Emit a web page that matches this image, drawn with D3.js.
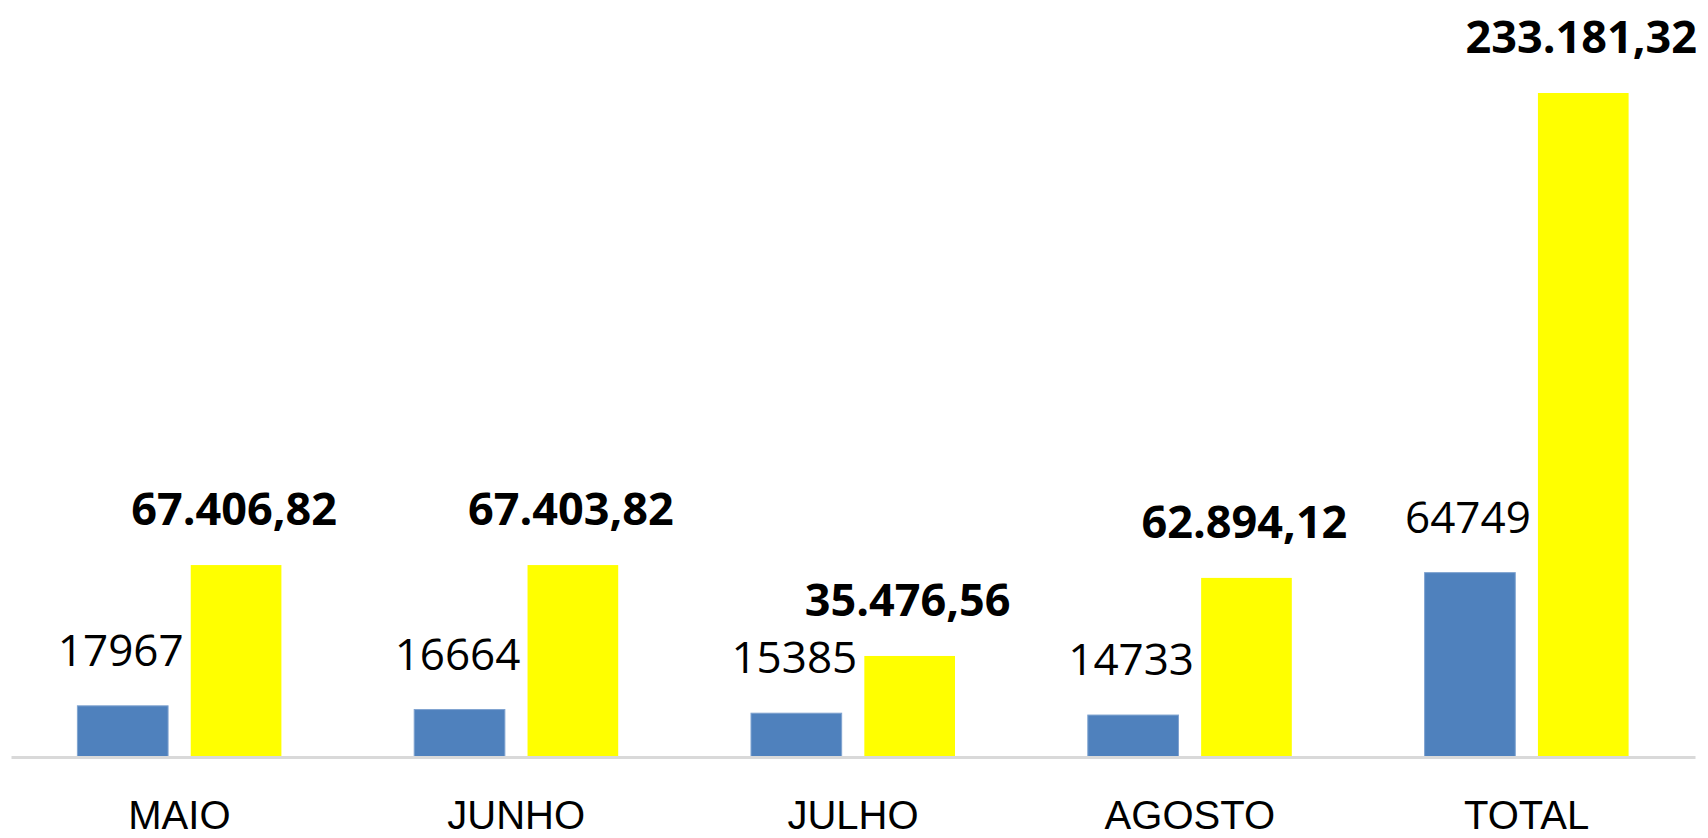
<!DOCTYPE html>
<meta charset="utf-8">
<script src="https://d3js.org/d3.v7.min.js"></script>
<style>
  body { margin: 0; background: #fff; }
  text { font-family: "Open Sans", "Liberation Sans", sans-serif; fill: #000; }
</style>
<div id="chart"></div>
<script>

// data
var categories = ["MAIO", "JUNHO", "JULHO", "AGOSTO", "TOTAL"];
var blueValues = [17967, 16664, 15385, 14733, 64749];
var yellowValues = [67406.82, 67403.82, 35476.56, 62894.12, 233181.32];
var yellowLabels = ["67.406,82", "67.403,82", "35.476,56", "62.894,12", "233.181,32"];

var W = 1708, H = 838;
var left = 11, right = 1695, baseY = 757;

var svg = d3.select("#chart").append("svg")
    .attr("width", W)
    .attr("height", H);

// band per month
var x = d3.scaleBand()
    .domain(categories)
    .range([left, right]);

// inner scale for the two series
var x1 = d3.scaleBand()
    .domain(["blue", "yellow"])
    .range([x.bandwidth() / 2 - 102, x.bandwidth() / 2 + 102])
    .paddingInner(0.2);

var y = d3.scaleLinear()
    .domain([0, 250000])
    .range([baseY, baseY - 664 * 250000 / 233181.32]);

var rows = categories.map(function(c, i) {
  return {cat: c, blue: blueValues[i], yellow: yellowValues[i], ylab: yellowLabels[i]};
});

var g = svg.selectAll("g.grp")
  .data(rows)
  .enter().append("g")
    .attr("class", "grp")
    .attr("transform", function(d) { return "translate(" + x(d.cat) + ",0)"; });

g.append("rect")
    .attr("x", x1("blue"))
    .attr("width", x1.bandwidth())
    .attr("y", function(d) { return y(d.blue); })
    .attr("height", function(d) { return baseY - y(d.blue); })
    .attr("fill", "#4f81bd")
    .attr("stroke", "#7fa3d0")
    .attr("stroke-width", 1);

g.append("rect")
    .attr("x", x1("yellow"))
    .attr("width", x1.bandwidth())
    .attr("y", function(d) { return y(d.yellow); })
    .attr("height", function(d) { return baseY - y(d.yellow); })
    .attr("fill", "#ffff00");

// value labels
g.append("text")
    .attr("x", x1("blue") + x1.bandwidth() / 2 - 2)
    .attr("y", function(d) { return y(d.blue) - 40; })
    .attr("text-anchor", "middle")
    .style("font-size", "44px")
    .text(function(d) { return d.blue; });

g.append("text")
    .attr("x", x1("yellow") + x1.bandwidth() / 2 - 2)
    .attr("y", function(d) { return y(d.yellow) - 40; })
    .attr("text-anchor", "middle")
    .style("font-size", "45px")
    .style("font-weight", "bold")
    .text(function(d) { return d.ylab; });

// x axis
var xAxis = svg.append("g")
    .attr("transform", "translate(0," + baseY + ")")
    .call(d3.axisBottom(x).tickSize(0).tickPadding(50));

xAxis.select(".domain")
    .attr("stroke", "#d9d9d9")
    .attr("stroke-width", 3);

xAxis.selectAll("text")
    .style("font-size", "40px")
    .style("font-family", "'Liberation Sans', Arial, sans-serif")
    .attr("fill", "#000")
    .attr("dy", "0")
    .attr("y", 72);

</script>
